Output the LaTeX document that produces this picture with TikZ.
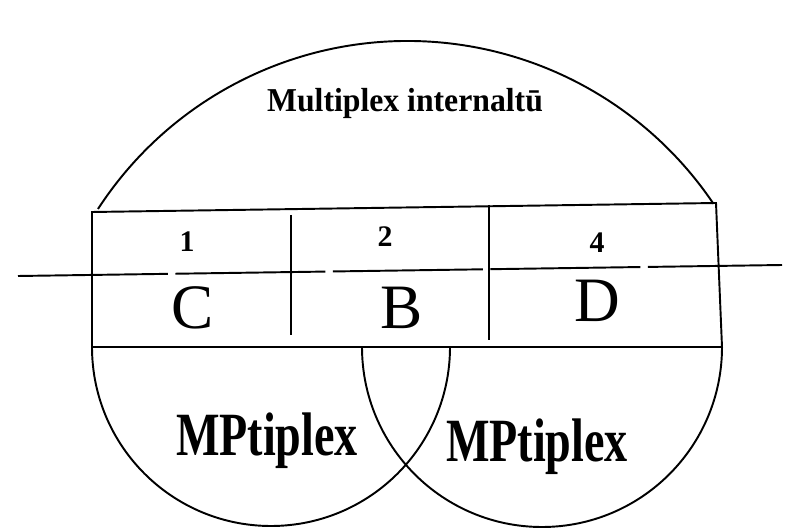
\documentclass[tikz,border=0pt]{standalone}
\usepackage{fontspec}
\setmainfont{Liberation Serif}
\usepackage{graphicx}
\begin{document}
\begin{tikzpicture}[x=0.02cm,y=0.02cm,line width=1.1pt,
  every node/.style={inner sep=0pt}]
  \useasboundingbox (0,0) rectangle (801,531);
  % Corners of the table
  \coordinate (tl) at (92,319);
  \coordinate (tr) at (716,328);
  \coordinate (bl) at (92,184);
  \coordinate (br) at (722,184);

  % Upper arc over the table
  \draw (98,322) arc[start angle=147,end angle=34,radius=369];
  \node (upper) at (405,428)
    {\scalebox{0.95}[1]{\fontsize{19}{20}\selectfont\bfseries Multiplex internaltū}};

  % Table with two rows and three columns
  \draw (bl) -- (tl) -- (tr) -- (br) -- cycle;
  \draw[dash pattern=on 3cm off 0.15cm] (18,255) -- (782,266);
  \draw (291,316) -- (291,196);
  \draw (489,326) -- (489,191);
  \foreach \nm/\x/\y/\lab in {one/187/289/1,two/385/294/2,four/597/288/4}{
    \node (\nm) at (\x,\y) {\fontsize{17}{17}\selectfont\bfseries\lab};
  }
  \foreach \nm/\x/\y/\lab in {colC/193/223/C,colB/402/223/B,colD/597/230/D}{
    \node (\nm) at (\x,\y) {\fontsize{36}{36}\selectfont\lab};
  }

  % Lower half circles
  \draw (bl) arc[start angle=180,end angle=360,radius=179];
  \draw (362,184) arc[start angle=180,end angle=360,radius=180];
  \node (lowleft) at (267,90)
    {\scalebox{0.75}[1]{\fontsize{35}{35}\selectfont\bfseries MPtiplex}};
  \node (lowright) at (537,84)
    {\scalebox{0.75}[1]{\fontsize{35}{35}\selectfont\bfseries MPtiplex}};
\end{tikzpicture}
\end{document}
